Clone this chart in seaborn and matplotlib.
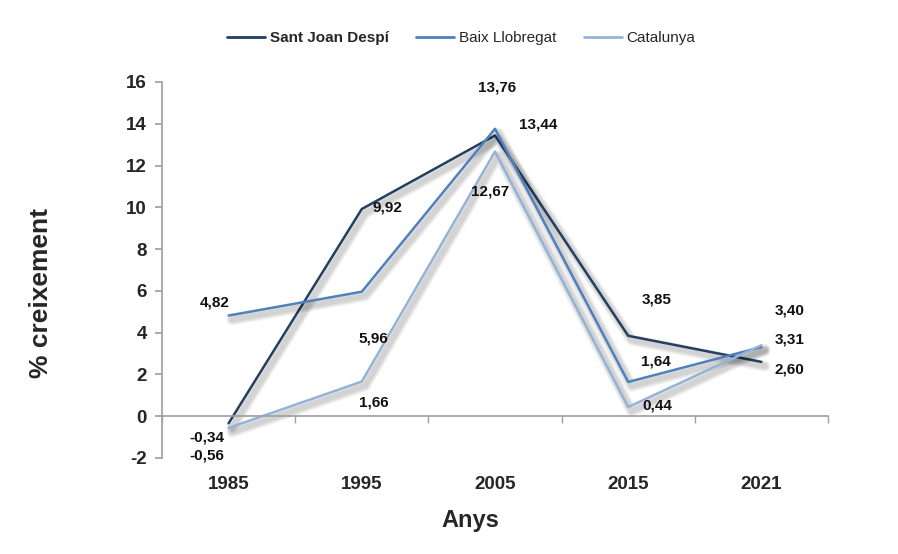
import pandas as pd
import matplotlib.pyplot as plt
import matplotlib.patheffects as pe
import numpy as np
import seaborn as sns

# Data
years = ['1985', '1995', '2005', '2015', '2021']
sant_joan = [-0.34, 9.92, 13.44, 3.85, 2.60]
baix_llobregat = [4.82, 5.96, 13.76, 1.64, 3.31]
catalunya = [-0.56, 1.66, 12.67, 0.44, 3.40]
series_names = ['Sant Joan Despí', 'Baix Llobregat', 'Catalunya']
colors = ['#243F60', '#4F81BD', '#95B3D7']

# label offsets (pixels) for data labels
offsets = {
    'Sant Joan Despí': [(-22, -14), (26, 2), (43, 11), (28, 36), (28, -8)],
    'Baix Llobregat': [(-14, 13), (12, -47), (2, 41), (28, 20), (28, 8)],
    'Catalunya': [(-22, -28), (12, -21), (-5, -40), (29, 2), (28, 35)],
}

sns.set_theme(style='white')
plt.rcParams['font.family'] = ['Liberation Sans', 'DejaVu Sans']
plt.rcParams['axes.unicode_minus'] = False

x = np.arange(len(years))
df = pd.DataFrame({
    'x': np.tile(x, 3),
    'value': sant_joan + baix_llobregat + catalunya,
    'serie': np.repeat(series_names, len(years)),
})

fig = plt.figure(figsize=(8.98, 5.54), dpi=100)
ax = fig.add_axes([162 / 898, 1 - 458 / 554, (828 - 162) / 898, (458 - 82) / 554])

sns.lineplot(data=df, x='x', y='value', hue='serie', hue_order=series_names,
             palette=colors, linewidth=1.8, ax=ax, legend=False)

# soft drop shadow like the original
shadow = [pe.SimpleLineShadow(offset=(2.5, -3), shadow_color='black', alpha=0.06, linewidth=w)
          for w in (8, 6, 4)]
for line in ax.get_lines():
    line.set_path_effects(shadow + [pe.Normal()])

# data labels
vals = {'Sant Joan Despí': sant_joan, 'Baix Llobregat': baix_llobregat, 'Catalunya': catalunya}
for name in series_names:
    for i, v in enumerate(vals[name]):
        dx, dy = offsets[name][i]
        ax.annotate('{:.2f}'.format(v).replace('.', ','), (x[i], v),
                    xytext=(dx, dy), textcoords='offset pixels',
                    ha='center', va='center', fontsize=11, fontweight='bold',
                    color='#111111')

ax.set_xlim(-0.5, len(years) - 0.5)
ax.set_ylim(-2, 16)
ax.set_yticks(np.arange(-2, 17, 2))
ax.set_xticks(x)
ax.set_xticklabels(years)
ax.set_xticks(np.arange(-0.5, len(years), 1), minor=True)

for s in ['top', 'right']:
    ax.spines[s].set_visible(False)
ax.spines['left'].set_color('#A0A0A0')
ax.spines['bottom'].set_color('#A0A0A0')
ax.spines['bottom'].set_position(('data', 0))

ax.tick_params(axis='y', which='major', direction='out', length=5, color='#A0A0A0',
               left=True, labelsize=13.5, pad=6)
ax.tick_params(axis='x', which='major', length=0, labelsize=13.5, pad=43)
ax.tick_params(axis='x', which='minor', direction='out', length=5, color='#A0A0A0', bottom=True)
for lab in ax.get_xticklabels() + ax.get_yticklabels():
    lab.set_fontweight('bold')

ax.set_xlabel('')
ax.set_ylabel('% creixement', fontsize=19, fontweight='bold')
ax.yaxis.set_label_coords(-0.164, 0.44)
fig.text(470 / 898, 1 - 521 / 554, 'Anys', ha='center', va='center',
         fontsize=17, fontweight='bold')

handles = [plt.Line2D([], [], color=c, linewidth=2) for c in colors]
leg = fig.legend(handles, series_names, loc='center', bbox_to_anchor=(461 / 898, 1 - 38 / 554),
                 ncol=3, frameon=False, fontsize=11, handlelength=2.5, columnspacing=1.8,
                 handletextpad=0.3)
leg.get_texts()[0].set_fontweight('bold')

fig.savefig('out.png', dpi=100)
